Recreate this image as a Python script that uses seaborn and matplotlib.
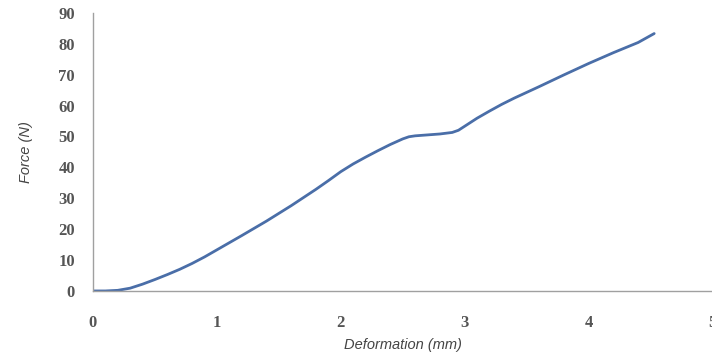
import matplotlib
matplotlib.use("Agg")
import matplotlib.pyplot as plt
import seaborn as sns
import pandas as pd

deformation = [0, 0.1, 0.2, 0.3, 0.4, 0.5, 0.6, 0.7, 0.8, 0.9, 1.0, 1.2, 1.4, 1.6, 1.8, 1.9,
               2.0, 2.1, 2.2, 2.3, 2.4, 2.5, 2.55, 2.6, 2.7, 2.8, 2.9, 2.95, 3.0, 3.1, 3.2,
               3.3, 3.4, 3.6, 3.8, 4.0, 4.2, 4.4, 4.53]
force = [0, 0, 0.2, 0.9, 2.2, 3.7, 5.3, 7.0, 8.9, 11.0, 13.3, 17.9, 22.6, 27.6, 32.9, 35.7,
         38.6, 41.1, 43.3, 45.4, 47.4, 49.2, 49.9, 50.2, 50.5, 50.8, 51.3, 52.0, 53.3, 55.9, 58.2,
         60.4, 62.4, 66.1, 69.9, 73.6, 77.1, 80.4, 83.3]
x_ticks = [0, 1, 2, 3, 4, 5]
y_ticks = [0, 10, 20, 30, 40, 50, 60, 70, 80, 90]

df = pd.DataFrame({"Deformation": deformation, "Force": force})

sns.set_style("white")
fig = plt.figure(figsize=(7.12, 3.57), dpi=100)
ax = fig.add_axes([0.1306, 0.185, 0.87, 0.779])
sns.lineplot(data=df, x="Deformation", y="Force", ax=ax, color="#4a6ea8", linewidth=2)

ax.set_xlim(0, 5)
ax.set_ylim(0, 90)
ax.set_xticks(x_ticks)
ax.set_yticks(y_ticks)
for s in ["top", "right"]:
    ax.spines[s].set_visible(False)
for s in ["left", "bottom"]:
    ax.spines[s].set_color("#a0a0a0")
    ax.spines[s].set_linewidth(1)
ax.tick_params(axis="both", direction="out", length=5, width=1, color="#a0a0a0",
               labelcolor="#555555", labelsize=12)
for lab in ax.get_xticklabels() + ax.get_yticklabels():
    lab.set_fontfamily("Liberation Serif")
    lab.set_fontweight("bold")
ax.tick_params(axis="x", pad=12)
ax.tick_params(axis="y", pad=8)
ax.set_xlabel("Deformation (mm)", fontsize=10.5, fontstyle="italic", color="#444444",
              fontfamily="Liberation Sans", labelpad=5)
ax.set_ylabel("Force (N)", fontsize=10.5, fontstyle="italic", color="#444444",
              fontfamily="Liberation Sans", labelpad=18)
fig.savefig("out.png", dpi=100)
